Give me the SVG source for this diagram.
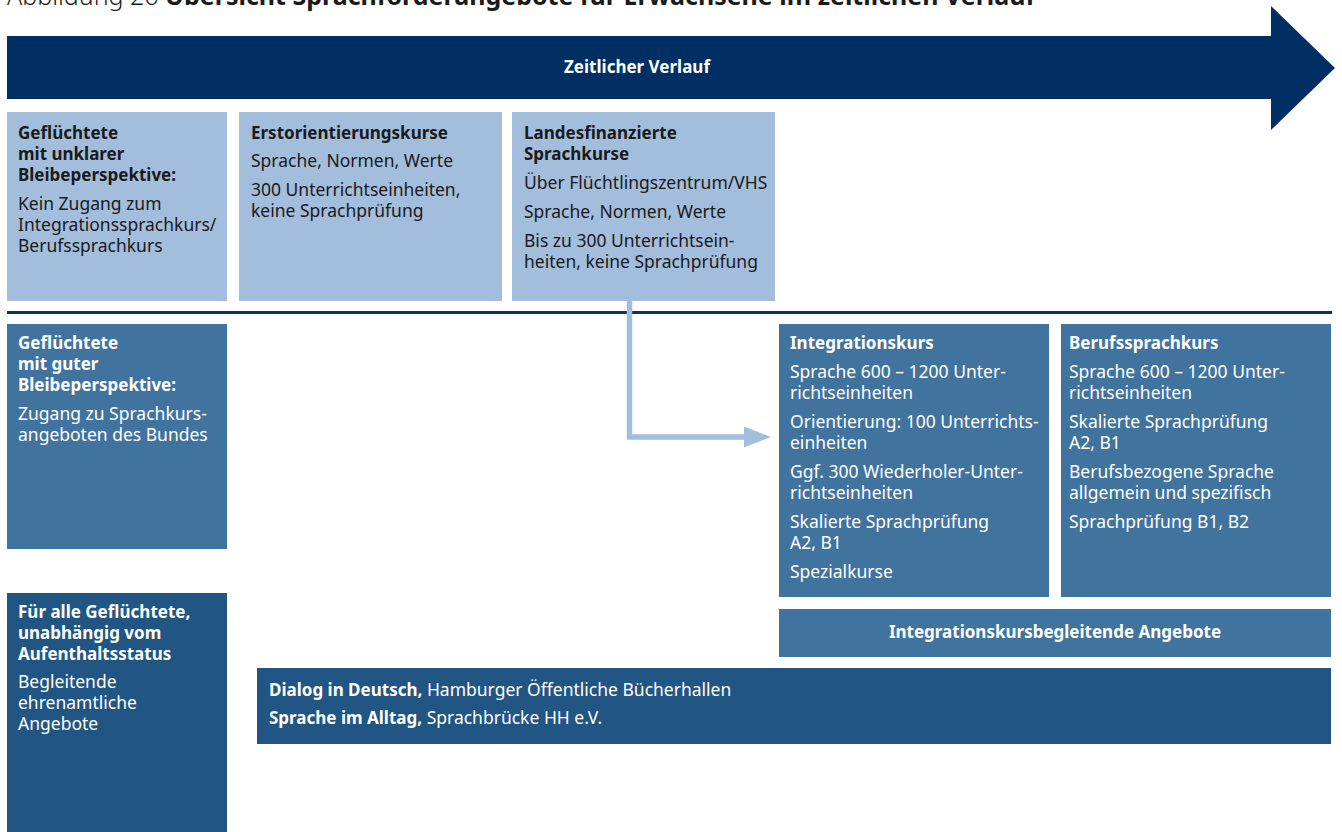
<svg xmlns="http://www.w3.org/2000/svg" width="1342" height="832" viewBox="0 0 1342 832">
<defs>
<style>
text{font-family:"Noto Sans","Open Sans","DejaVu Sans",sans-serif;font-size:17.5px}
.b{font-weight:bold;font-size:17px}
.dk{fill:#1a1a1a}
.wt{fill:#ffffff}
.light{fill:#a2bedc}
.mid{fill:#41739f}
.dark{fill:#215584}
.navy{fill:#003063}
</style>
<marker id="ah" markerUnits="userSpaceOnUse" markerWidth="27" markerHeight="21" refX="0" refY="10.5" orient="auto">
<path d="M0,0 L27,10.5 L0,21 Z" fill="#a2bedc"/>
</marker>
</defs>
<rect width="1342" height="832" fill="#ffffff"/>

<g id="title">
<text x="7" y="5" class="dk" style="font-size:25px"><tspan style="font-weight:300">Abbildung 26 </tspan><tspan font-weight="bold">Übersicht Sprachförderangebote für Erwachsene im zeitlichen Verlauf</tspan></text>
</g>

<g id="timeline">
<polygon class="navy" points="7,36 1271,36 1271,6 1335,68 1271,130 1271,99 7,99"/>
<text x="637" y="73" class="b wt" text-anchor="middle">Zeitlicher Verlauf</text>
</g>

<g id="divider">
<rect x="7" y="311" width="1325" height="3" fill="#0b3466"/>
</g>

<g id="connectors">
<path d="M629.5,301 V437 H744" fill="none" stroke="#a2bedc" stroke-width="5.5" marker-end="url(#ah)"/>
</g>

<g id="n1">
<rect x="7" y="112" width="220" height="189" class="light"/>
<text class="b dk"><tspan x="18" y="139">Geflüchtete</tspan><tspan x="18" y="160">mit unklarer</tspan><tspan x="18" y="181">Bleibeperspektive:</tspan></text>
<text class="dk"><tspan x="18" y="210">Kein Zugang zum</tspan><tspan x="18" y="231">Integrationssprachkurs/</tspan><tspan x="18" y="252">Berufssprachkurs</tspan></text>
</g>

<g id="n2">
<rect x="239" y="112" width="263" height="189" class="light"/>
<text x="251" y="139" class="b dk">Erstorientierungskurse</text>
<text x="251" y="167" class="dk">Sprache, Normen, Werte</text>
<text class="dk"><tspan x="251" y="196">300 Unterrichtseinheiten,</tspan><tspan x="251" y="217">keine Sprachprüfung</tspan></text>
</g>

<g id="n3">
<rect x="512" y="112" width="263" height="189" class="light"/>
<text class="b dk"><tspan x="524" y="139">Landesfinanzierte</tspan><tspan x="524" y="160">Sprachkurse</tspan></text>
<text x="524" y="189" class="dk">Über Flüchtlingszentrum/VHS</text>
<text x="524" y="218" class="dk">Sprache, Normen, Werte</text>
<text class="dk"><tspan x="524" y="247">Bis zu 300 Unterrichtsein-</tspan><tspan x="524" y="268">heiten, keine Sprachprüfung</tspan></text>
</g>

<g id="n4">
<rect x="7" y="324" width="220" height="225" class="mid"/>
<text class="b wt"><tspan x="18" y="349">Geflüchtete</tspan><tspan x="18" y="370">mit guter</tspan><tspan x="18" y="391">Bleibeperspektive:</tspan></text>
<text class="wt"><tspan x="18" y="420">Zugang zu Sprachkurs-</tspan><tspan x="18" y="441">angeboten des Bundes</tspan></text>
</g>

<g id="n5">
<rect x="779" y="324" width="270" height="273" class="mid"/>
<text x="790" y="349" class="b wt">Integrationskurs</text>
<text class="wt"><tspan x="790" y="378">Sprache 600 – 1200 Unter-</tspan><tspan x="790" y="399">richtseinheiten</tspan></text>
<text class="wt"><tspan x="790" y="428">Orientierung: 100 Unterrichts-</tspan><tspan x="790" y="449">einheiten</tspan></text>
<text class="wt"><tspan x="790" y="478">Ggf. 300 Wiederholer-Unter-</tspan><tspan x="790" y="499">richtseinheiten</tspan></text>
<text class="wt"><tspan x="790" y="528">Skalierte Sprachprüfung</tspan><tspan x="790" y="549">A2, B1</tspan></text>
<text x="790" y="578" class="wt">Spezialkurse</text>
</g>

<g id="n6">
<rect x="1061" y="324" width="270" height="273" class="mid"/>
<text x="1069" y="349" class="b wt">Berufssprachkurs</text>
<text class="wt"><tspan x="1069" y="378">Sprache 600 – 1200 Unter-</tspan><tspan x="1069" y="399">richtseinheiten</tspan></text>
<text class="wt"><tspan x="1069" y="428">Skalierte Sprachprüfung</tspan><tspan x="1069" y="449">A2, B1</tspan></text>
<text class="wt"><tspan x="1069" y="478">Berufsbezogene Sprache</tspan><tspan x="1069" y="499">allgemein und spezifisch</tspan></text>
<text x="1069" y="528" class="wt">Sprachprüfung B1, B2</text>
</g>

<g id="n7">
<rect x="779" y="609" width="552" height="48" class="mid"/>
<text x="1055" y="638" class="b wt" text-anchor="middle">Integrationskursbegleitende Angebote</text>
</g>

<g id="n8">
<rect x="7" y="593" width="220" height="239" class="dark"/>
<text class="b wt"><tspan x="18" y="618">Für alle Geflüchtete,</tspan><tspan x="18" y="639">unabhängig vom</tspan><tspan x="18" y="660">Aufenthaltsstatus</tspan></text>
<text class="wt"><tspan x="18" y="688">Begleitende</tspan><tspan x="18" y="709">ehrenamtliche</tspan><tspan x="18" y="730">Angebote</tspan></text>
</g>

<g id="n9">
<rect x="257" y="668" width="1074" height="76" class="dark"/>
<text x="269" y="696" class="wt"><tspan font-weight="bold" font-size="17">Dialog in Deutsch,</tspan> Hamburger Öffentliche Bücherhallen</text>
<text x="269" y="724" class="wt"><tspan font-weight="bold" font-size="17">Sprache im Alltag,</tspan> Sprachbrücke HH e.V.</text>
</g>
</svg>
